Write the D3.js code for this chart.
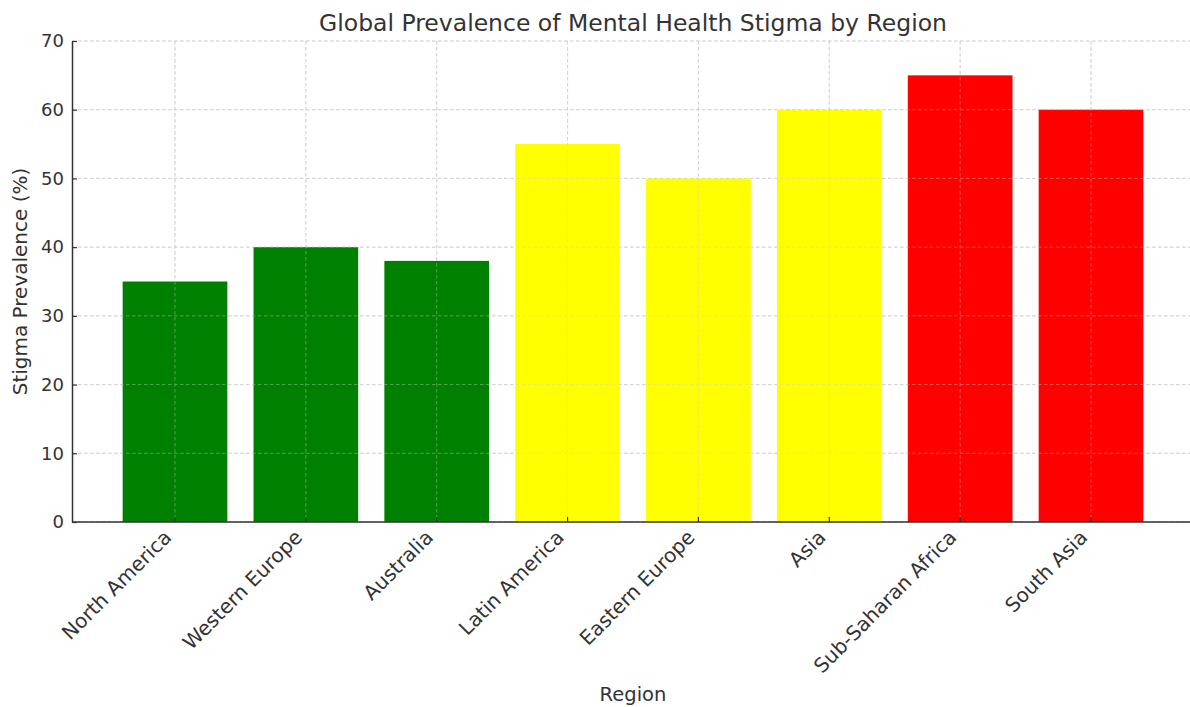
<!DOCTYPE html>
<html><head><meta charset="utf-8">
<script src="https://cdn.jsdelivr.net/npm/d3@7"></script>
<style>
html,body{margin:0;padding:0;background:#fff;}
text{font-family:"DejaVu Sans",sans-serif;}
</style></head>
<body>
<svg id="chart" width="1190" height="707"></svg>
<script>
const categories = ["North America","Western Europe","Australia","Latin America","Eastern Europe","Asia","Sub-Saharan Africa","South Asia"];
const values = [35,40,38,55,50,60,65,60];
const colors = ["green","green","green","yellow","yellow","yellow","red","red"];
const yTicks = [0,10,20,30,40,50,60,70];

(function(){
const svg = d3.select("#chart");
const pLeft = 72, pRight = 1194, pTop = 41, pBottom = 522;
const x = d3.scaleLinear().domain([-0.787, categories.length - 1 + 0.787]).range([pLeft, pRight]);
const y = d3.scaleLinear().domain([0,70]).range([pBottom, pTop]);
const textColor = "#333";

function drawGrid(g){
  g.selectAll("line.h").data(yTicks).enter().append("line").attr("class","h")
    .attr("x1", pLeft).attr("x2", pRight).attr("y1", d=>y(d)).attr("y2", d=>y(d))
    .attr("stroke","#cfcfcf").attr("stroke-width",0.9).attr("stroke-dasharray","3.5,2.5");
  g.selectAll("line.v").data(categories).enter().append("line").attr("class","v")
    .attr("x1",(d,i)=>x(i)).attr("x2",(d,i)=>x(i)).attr("y1", pTop).attr("y2", pBottom)
    .attr("stroke","#cfcfcf").attr("stroke-width",0.9).attr("stroke-dasharray","3.5,2.5");
}
drawGrid(svg.append("g"));

// bars
svg.append("g").selectAll("rect").data(values).enter().append("rect")
  .attr("x",(d,i)=>x(i-0.4)).attr("width",(d,i)=>x(i+0.4)-x(i-0.4))
  .attr("y",d=>y(d)).attr("height",d=>y(0)-y(d))
  .attr("fill",(d,i)=>colors[i]);

drawGrid(svg.append("g").attr("opacity",0.45));

// y axis
const yAxis = d3.axisLeft(y).tickValues(yTicks).tickSizeInner(-5).tickSizeOuter(0).tickPadding(8);
const gy = svg.append("g").attr("transform",`translate(${pLeft},0)`).call(yAxis);
gy.select(".domain").attr("stroke",textColor).attr("stroke-width",1.5);
gy.selectAll(".tick line").attr("stroke",textColor).attr("stroke-width",1.2);
gy.selectAll(".tick text").attr("font-size",18).attr("fill",textColor).attr("x",-8).attr("font-family","DejaVu Sans");

// x axis
const gx = svg.append("g").attr("transform",`translate(0,${pBottom})`);
gx.append("line").attr("x1",pLeft).attr("x2",pRight).attr("y1",0).attr("y2",0)
  .attr("stroke",textColor).attr("stroke-width",1.5);
const xt = gx.selectAll("g.tick").data(categories).enter().append("g")
  .attr("transform",(d,i)=>`translate(${x(i)},0)`);
xt.append("line").attr("y1",0).attr("y2",-5).attr("stroke",textColor).attr("stroke-width",1.2);
xt.append("text").text(d=>d)
  .attr("font-size",20).attr("fill",textColor).attr("text-anchor","end")
  .attr("transform","translate(-13,6) rotate(-45)").attr("dy","0.75em");

// title and labels
svg.append("text").attr("x",(pLeft+pRight)/2).attr("y",31).attr("text-anchor","middle")
  .attr("font-size",23.5).attr("fill",textColor).text("Global Prevalence of Mental Health Stigma by Region");
svg.append("text").attr("x",(pLeft+pRight)/2).attr("y",701).attr("text-anchor","middle")
  .attr("font-size",19.5).attr("fill",textColor).text("Region");
svg.append("text").attr("transform",`translate(27,${(pTop+pBottom)/2}) rotate(-90)`).attr("text-anchor","middle")
  .attr("font-size",20).attr("fill",textColor).text("Stigma Prevalence (%)");
})();
</script>
</body></html>
